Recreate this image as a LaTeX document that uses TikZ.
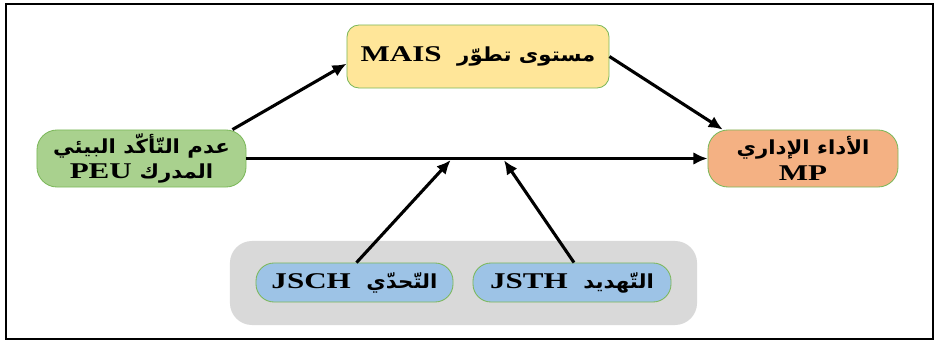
\documentclass[tikz,border=0pt]{standalone}
\usepackage{fontspec}
\setmainfont[FakeStretch=1.38]{Liberation Serif}
\newfontfamily\arabicfont[Script=Arabic,Scale=0.86,FakeStretch=1.1]{DejaVu Sans}
\TeXXeTstate=1
\usetikzlibrary{arrows.meta, positioning}

\definecolor{boxyellow}{HTML}{FFE699}
\definecolor{boxgreen}{HTML}{A9D18E}
\definecolor{boxorange}{HTML}{F4B183}
\definecolor{boxblue}{HTML}{9DC3E6}
\definecolor{boxgray}{HTML}{D9D9D9}
\definecolor{edgegreen}{HTML}{7CB85A}

\tikzset{
  varbox/.style={draw=edgegreen, line width=0.6pt, align=center,
    inner sep=0pt, font=\fontsize{16}{18}\selectfont\bfseries},
  arr/.style={line width=2.2pt, -{Latex[length=10pt,width=9pt]}}
}

\begin{document}
\begin{tikzpicture}[x=0.025cm, y=-0.025cm]
        % Cadre
        \useasboundingbox (0,0) rectangle (936,342);
        \draw[line width=1.5pt] (6,4) rectangle (933,339);

        % Fond gris
        \node[fill=boxgray, rounded corners=0.55cm, minimum width=11.675cm,
          minimum height=2.1cm] (grp) at (463.5,283) {};

        % Noeuds
        \node[varbox, fill=boxyellow, rounded corners=0.3cm, minimum width=6.55cm,
          minimum height=1.575cm] (mais) at (478,56.5)
          {\beginR{\arabicfont مستوى تطوّر}\ \ \beginL MAIS\endL\endR};
        \node[varbox, fill=boxgreen, rounded corners=0.5cm, minimum width=5.225cm,
          minimum height=1.425cm] (peu) at (141.5,158.5)
          {\beginR{\arabicfont عدم التّأكّد البيئي}\endR\\
           \beginR{\arabicfont المدرك} \beginL PEU\endL\endR};
        \node[varbox, fill=boxorange, rounded corners=0.5cm, minimum width=4.75cm,
          minimum height=1.425cm] (mp) at (803,158.5)
          {\beginR{\arabicfont الأداء الإداري}\endR\\ MP};
        \node[varbox, fill=boxblue, rounded corners=0.45cm, minimum width=4.925cm,
          minimum height=0.975cm] (jsch) at (354.5,282.5)
          {\beginR{\arabicfont التّحدّي}\ \ \beginL JSCH\endL\endR};
        \node[varbox, fill=boxblue, rounded corners=0.45cm, minimum width=4.95cm,
          minimum height=0.975cm] (jsth) at (572,282.5)
          {\beginR{\arabicfont التّهديد}\ \ \beginL JSTH\endL\endR};

        % Fleches
        \draw[arr] ([xshift=-0.35cm]peu.north east) -- ([yshift=-0.18cm]mais.west);
        \draw[arr] (mais.east) -- ([xshift=0.38cm]mp.north west);
        \draw[arr] (peu.east) -- (mp.west)
          coordinate[pos=0.446] (h1) coordinate[pos=0.556] (h2);
        \draw[arr, shorten >=1.5pt] ([xshift=0.05cm]jsch.north) -- (h1);
        \draw[arr, shorten >=1.5pt] ([xshift=0.05cm]jsth.north) -- (h2);
\end{tikzpicture}
\end{document}
